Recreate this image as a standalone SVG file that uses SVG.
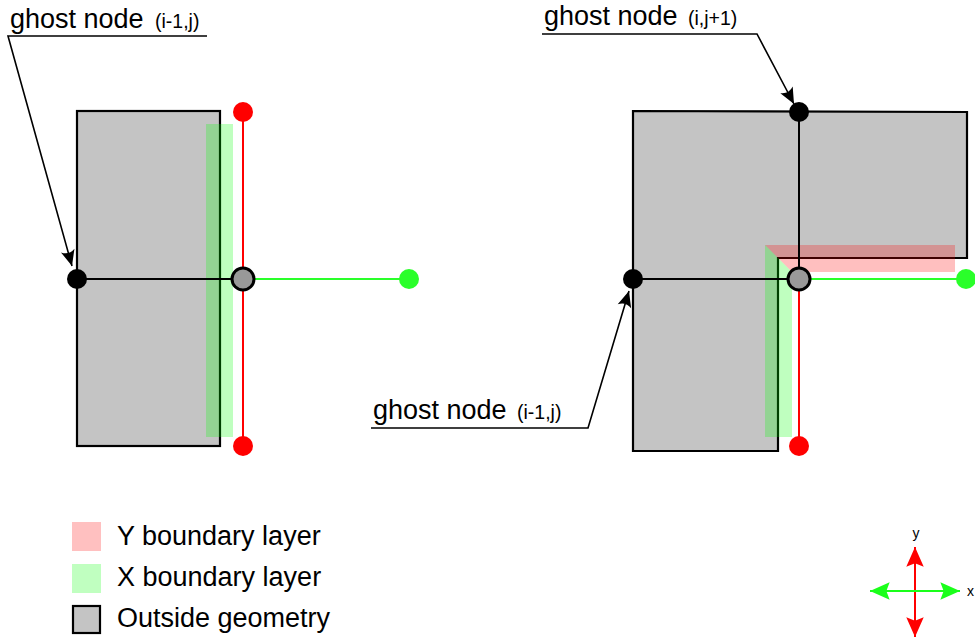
<svg xmlns="http://www.w3.org/2000/svg" width="975" height="639" viewBox="0 0 975 639">
  <style>
    .geom { fill: #c4c4c4; stroke: #000; stroke-width: 2.2; }
    .xlayer { fill: #00ff00; fill-opacity: 0.25; }
    .ylayer { fill: #ff0000; fill-opacity: 0.25; }
    .link { stroke: #000; stroke-width: 2; fill: none; }
    .xlink { stroke: #2aff2a; stroke-width: 2; fill: none; }
    .ylink { stroke: #ff0000; stroke-width: 2; fill: none; }
    .leader { stroke: #000; stroke-width: 1.6; fill: none; }
    .ghost { fill: #000; }
    .ynode { fill: #ff0000; }
    .xnode { fill: #2aff2a; }
    .center { fill: #999999; stroke: #000; stroke-width: 3; }
    text { font-family: "Liberation Sans", Arial, sans-serif; fill: #000; }
    .label { font-size: 27px; }
    .idx { font-size: 19.5px; }
    .axis { font-size: 14px; }
  </style>
  <defs>
    <marker id="barb" markerUnits="userSpaceOnUse" markerWidth="20" markerHeight="20" viewBox="-6 -8 20 16" refX="12" refY="0" orient="auto">
      <path d="M12,0 L-4,-7 Q1,0 -4,7 Z" fill="#000"/>
    </marker>
    <marker id="redHead" markerUnits="userSpaceOnUse" markerWidth="24" markerHeight="24" viewBox="-2 -9 22 18" refX="18" refY="0" orient="auto-start-reverse">
      <path d="M18,0 L0,-8 L3,0 L0,8 Z" fill="#ff0000"/>
    </marker>
    <marker id="greenHead" markerUnits="userSpaceOnUse" markerWidth="24" markerHeight="24" viewBox="-2 -9 22 18" refX="18" refY="0" orient="auto-start-reverse">
      <path d="M18,0 L0,-8 L3,0 L0,8 Z" fill="#1aff1a"/>
    </marker>
  </defs>

  <!-- Left case: straight wall -->
  <g id="left-geometry">
    <rect class="geom" x="77" y="111" width="143" height="335"/>
    <rect class="xlayer" x="206" y="124" width="27" height="313"/>
  </g>

  <!-- Right case: L-shaped corner -->
  <g id="right-geometry">
    <path class="geom" d="M633,111 L967,112 L967,258 L778,258 L778,451 L633,451 Z"/>
    <path class="ylayer" d="M765,245 L955,245 L955,272 L792,272 Z"/>
    <path class="xlayer" d="M765,245 L792,272 L792,437 L765,437 Z"/>
  </g>

  <g id="connectors">
    <!-- left stencil -->
    <line class="link" x1="77" y1="279" x2="243" y2="279"/>
    <line class="xlink" x1="243" y1="279" x2="409" y2="279"/>
    <line class="ylink" x1="243" y1="112" x2="243" y2="446"/>
    <!-- right stencil -->
    <line class="link" x1="633" y1="279" x2="799" y2="279"/>
    <line class="link" x1="799" y1="112" x2="799" y2="279"/>
    <line class="xlink" x1="799" y1="279" x2="966" y2="279"/>
    <line class="ylink" x1="799" y1="279" x2="799" y2="446"/>
    <!-- label leaders -->
    <polyline class="leader" points="207,36 8,36 72,266" marker-end="url(#barb)"/>
    <polyline class="leader" points="542,34 757,34 794,104" marker-end="url(#barb)"/>
    <polyline class="leader" points="371,428 588,428 629,291" marker-end="url(#barb)"/>
  </g>

  <!-- Left stencil nodes -->
  <g id="left-ghost"><circle class="ghost" cx="77" cy="279" r="10"/></g>
  <g id="left-top"><circle class="ynode" cx="243" cy="112" r="10"/></g>
  <g id="left-bottom"><circle class="ynode" cx="243" cy="446" r="10"/></g>
  <g id="left-east"><circle class="xnode" cx="409" cy="279" r="10"/></g>
  <g id="left-center"><circle class="center" cx="243" cy="279" r="11"/></g>

  <!-- Right stencil nodes -->
  <g id="right-ghost-west"><circle class="ghost" cx="633" cy="279" r="10"/></g>
  <g id="right-ghost-north"><circle class="ghost" cx="799" cy="112" r="10"/></g>
  <g id="right-bottom"><circle class="ynode" cx="799" cy="446" r="10"/></g>
  <g id="right-east"><circle class="xnode" cx="966" cy="279" r="10"/></g>
  <g id="right-center"><circle class="center" cx="799" cy="279" r="11"/></g>

  <!-- Labels -->
  <g id="label-left">
    <text x="10" y="28"><tspan class="label">ghost node</tspan><tspan class="idx" x="155">(i-1,j)</tspan></text>
  </g>
  <g id="label-north">
    <text x="544" y="25"><tspan class="label">ghost node</tspan><tspan class="idx" x="688">(i,j+1)</tspan></text>
  </g>
  <g id="label-west">
    <text x="373" y="419"><tspan class="label">ghost node</tspan><tspan class="idx" x="517">(i-1,j)</tspan></text>
  </g>

  <!-- Legend -->
  <g id="legend">
    <rect x="72" y="522" width="29" height="29" fill="#ffc0c0"/>
    <text class="label" x="117" y="545">Y boundary layer</text>
    <rect x="72" y="564" width="29" height="29" fill="#c0ffc0"/>
    <text class="label" x="117" y="586">X boundary layer</text>
    <rect x="73" y="606" width="27" height="27" fill="#c4c4c4" stroke="#000" stroke-width="2.2"/>
    <text class="label" x="117" y="627">Outside geometry</text>
  </g>

  <!-- Axis orientation -->
  <g id="axes">
    <line x1="915" y1="547" x2="915" y2="637" stroke="#ff0000" stroke-width="2" marker-start="url(#redHead)" marker-end="url(#redHead)"/>
    <line x1="870" y1="591" x2="960" y2="591" stroke="#1aff1a" stroke-width="2" marker-start="url(#greenHead)" marker-end="url(#greenHead)"/>
    <text class="axis" x="916" y="538" text-anchor="middle">y</text>
    <text class="axis" x="967" y="596">x</text>
  </g>
</svg>
